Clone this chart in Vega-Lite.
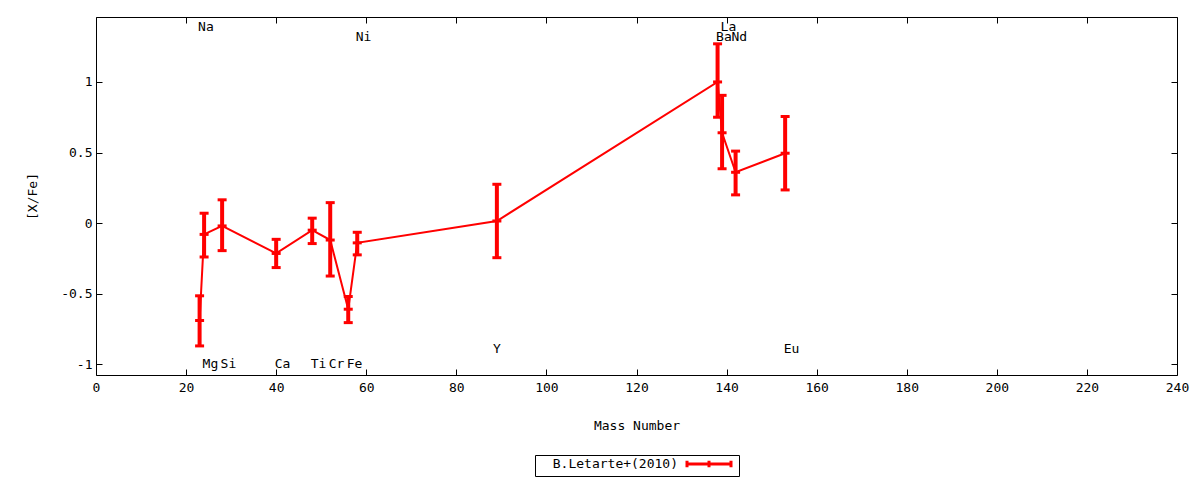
{
  "$schema": "https://vega.github.io/schema/vega-lite/v6.json",
  "width": 1081,
  "height": 358,
  "autosize": "none",
  "padding": {"left": 96, "top": 17, "right": 23, "bottom": 105},
  "background": "white",
  "datasets": {
    "pts": [
      {"el": "Na", "mass": 23, "val": -0.69, "lo": -0.87, "hi": -0.515, "series": "B.Letarte+(2010)"},
      {"el": "Mg", "mass": 24, "val": -0.08, "lo": -0.24, "hi": 0.07, "series": "B.Letarte+(2010)"},
      {"el": "Si", "mass": 28, "val": -0.02, "lo": -0.195, "hi": 0.165, "series": "B.Letarte+(2010)"},
      {"el": "Ca", "mass": 40, "val": -0.215, "lo": -0.315, "hi": -0.115, "series": "B.Letarte+(2010)"},
      {"el": "Ti", "mass": 48, "val": -0.05, "lo": -0.145, "hi": 0.035, "series": "B.Letarte+(2010)"},
      {"el": "Cr", "mass": 52, "val": -0.12, "lo": -0.375, "hi": 0.145, "series": "B.Letarte+(2010)"},
      {"el": "Fe", "mass": 56, "val": -0.61, "lo": -0.705, "hi": -0.52, "series": "B.Letarte+(2010)"},
      {"el": "Ni", "mass": 58, "val": -0.14, "lo": -0.225, "hi": -0.065, "series": "B.Letarte+(2010)"},
      {"el": "Y", "mass": 89, "val": 0.015, "lo": -0.245, "hi": 0.275, "series": "B.Letarte+(2010)"},
      {"el": "Ba", "mass": 138, "val": 1.0, "lo": 0.75, "hi": 1.27, "series": "B.Letarte+(2010)"},
      {"el": "La", "mass": 139, "val": 0.64, "lo": 0.385, "hi": 0.905, "series": "B.Letarte+(2010)"},
      {"el": "Nd", "mass": 142, "val": 0.36, "lo": 0.2, "hi": 0.51, "series": "B.Letarte+(2010)"},
      {"el": "Eu", "mass": 153, "val": 0.495, "lo": 0.235, "hi": 0.755, "series": "B.Letarte+(2010)"}
    ],
    "lbl": [
      {"el": "Na", "lx": 23, "ly": 1.39},
      {"el": "Mg", "lx": 24, "ly": -0.995},
      {"el": "Si", "lx": 28, "ly": -0.995},
      {"el": "Ca", "lx": 40, "ly": -0.995},
      {"el": "Ti", "lx": 48, "ly": -0.995},
      {"el": "Cr", "lx": 52, "ly": -0.995},
      {"el": "Fe", "lx": 56, "ly": -0.995},
      {"el": "Ni", "lx": 58, "ly": 1.315},
      {"el": "Y", "lx": 88.5, "ly": -0.895},
      {"el": "Ba", "lx": 138, "ly": 1.315},
      {"el": "La", "lx": 139, "ly": 1.39},
      {"el": "Nd", "lx": 141.4, "ly": 1.315},
      {"el": "Eu", "lx": 153, "ly": -0.895}
    ]
  },
  "resolve": {"axis": {"x": "independent", "y": "independent"}},
  "layer": [
    {
      "data": {"name": "pts"},
      "mark": {"type": "line", "color": "red", "strokeWidth": 2},
      "encoding": {
        "x": {
          "field": "mass", "type": "quantitative",
          "scale": {"domain": [0, 240], "nice": false, "zero": false},
          "axis": {
            "orient": "bottom", "title": "Mass Number",
            "values": [0, 20, 40, 60, 80, 100, 120, 140, 160, 180, 200, 220, 240],
            "labelFlush": false,
            "labelPadding": 12, "titleY": 50, "titleBaseline": "middle"
          }
        },
        "y": {
          "field": "val", "type": "quantitative",
          "scale": {"domain": [-1.076, 1.46], "nice": false, "zero": false},
          "axis": {
            "orient": "left", "title": "[X/Fe]",
            "values": [-1, -0.5, 0, 0.5, 1], "format": "~g",
            "labelExpr": "replace(datum.label, '\u2212', '-')",
            "labelFlush": false,
            "labelPadding": 10, "titleX": -64, "titleBaseline": "middle"
          }
        },
        "color": {
          "field": "series", "type": "nominal",
          "scale": {"range": ["red"]},
          "legend": {
            "title": null, "orient": "none", "legendX": 439, "legendY": 438,
            "symbolType": "M-4,0H4M-4,-0.6V0.6M0,-0.6V0.6M4,-0.6V0.6",
            "symbolSize": 121, "symbolStrokeWidth": 3, "symbolStrokeColor": "red",
            "symbolFillColor": "transparent", "symbolOffset": 165,
            "labelAlign": "right", "labelOffset": -38,
            "labelFont": "DejaVu Sans Mono", "labelFontSize": 13, "labelColor": "black",
            "strokeColor": "black", "fillColor": "white", "padding": 2
          }
        }
      }
    },
    {
      "data": {"name": "pts"},
      "mark": {"type": "rule", "color": "red", "strokeWidth": 4},
      "encoding": {
        "x": {"field": "mass", "type": "quantitative", "axis": null},
        "y": {"field": "lo", "type": "quantitative", "axis": null},
        "y2": {"field": "hi"}
      }
    },
    {
      "data": {"name": "pts"},
      "mark": {"type": "tick", "color": "red", "orient": "horizontal", "size": 9, "thickness": 3, "opacity": 1},
      "encoding": {
        "x": {"field": "mass", "type": "quantitative", "axis": null},
        "y": {"field": "lo", "type": "quantitative", "axis": null}
      }
    },
    {
      "data": {"name": "pts"},
      "mark": {"type": "tick", "color": "red", "orient": "horizontal", "size": 9, "thickness": 3, "opacity": 1},
      "encoding": {
        "x": {"field": "mass", "type": "quantitative", "axis": null},
        "y": {"field": "hi", "type": "quantitative", "axis": null}
      }
    },
    {
      "data": {"name": "pts"},
      "mark": {"type": "tick", "color": "red", "orient": "horizontal", "size": 9, "thickness": 3, "opacity": 1},
      "encoding": {
        "x": {
          "field": "mass", "type": "quantitative",
          "axis": {"orient": "top", "labels": false, "title": null,
                   "values": [0, 20, 40, 60, 80, 100, 120, 140, 160, 180, 200, 220, 240]}
        },
        "y": {
          "field": "val", "type": "quantitative",
          "axis": {"orient": "right", "labels": false, "title": null,
                   "values": [-1, -0.5, 0, 0.5, 1]}
        }
      }
    },
    {
      "data": {"name": "lbl"},
      "mark": {"type": "text", "align": "left", "baseline": "middle", "dx": -1.5,
               "font": "DejaVu Sans Mono", "fontSize": 13, "color": "black"},
      "encoding": {
        "x": {"field": "lx", "type": "quantitative", "axis": null},
        "y": {"field": "ly", "type": "quantitative", "axis": null},
        "text": {"field": "el"}
      }
    }
  ],
  "config": {
    "view": {"stroke": "black", "strokeWidth": 1},
    "axis": {
      "domain": false, "grid": false,
      "ticks": true, "tickSize": -6, "tickColor": "black", "tickWidth": 1,
      "labelFont": "DejaVu Sans Mono", "labelFontSize": 13, "labelColor": "black",
      "titleFont": "DejaVu Sans Mono", "titleFontSize": 13, "titleFontWeight": "normal", "titleColor": "black"
    }
  }
}
